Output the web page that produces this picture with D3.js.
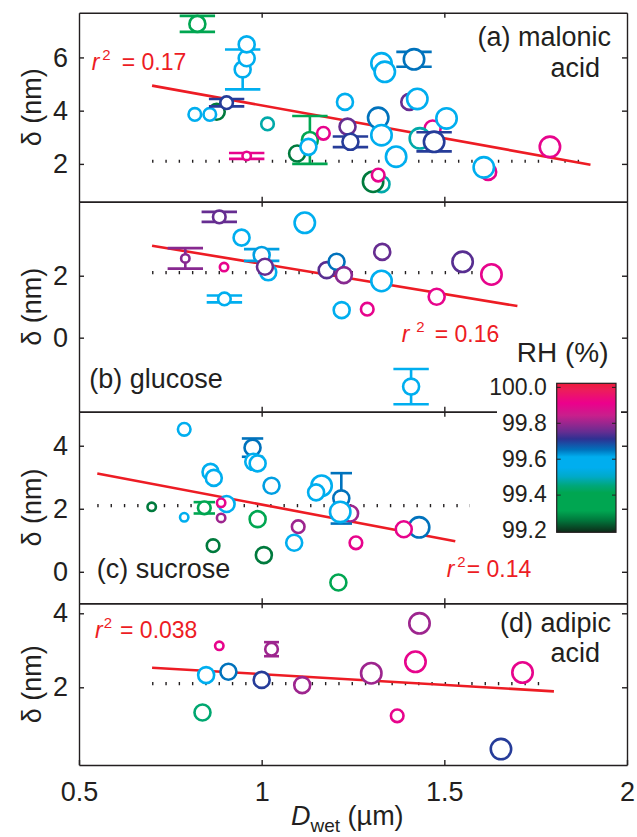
<!DOCTYPE html>
<html>
<head>
<meta charset="utf-8">
<script src="https://cdn.jsdelivr.net/npm/d3@7"></script>
<style>
body { margin: 0; background: #fff; }
text { font-family: "Liberation Sans", Arial, sans-serif; fill: #231f20; }
</style>
</head>
<body>
<svg id="chart" width="637" height="837"></svg>
<script>
// x axis (D_wet, um)
var xTicks = [0.5, 1, 1.5, 2];
var refDelta = 2.1;   // dotted reference line

// (a) malonic acid
var aD   = [0.877, 0.817, 0.858, 0.824, 0.948, 0.959, 0.959, 0.904, 1.016, 0.959, 1.097, 1.132, 1.128, 1.169, 1.228, 1.235, 1.243, 1.328, 1.337, 1.417, 1.404, 1.426, 1.319, 1.328, 1.368, 1.468, 1.433, 1.472, 1.506, 1.62, 1.608, 1.789, 1.328, 1.305, 1.319];
var aDel = [3.96, 3.86, 3.86, 7.26, 5.55, 5.97, 6.49, 4.30, 3.50, 2.30, 2.39, 2.90, 2.64, 3.15, 4.33, 3.40, 2.83, 5.78, 5.46, 5.93, 4.33, 4.44, 3.73, 3.08, 2.27, 3.33, 2.96, 2.83, 3.71, 1.70, 1.87, 2.64, 1.24, 1.33, 1.58];
var aRH  = [99.26, 99.57, 99.57, 99.37, 99.57, 99.57, 99.57, 99.70, 99.48, 99.90, 99.26, 99.37, 99.57, 99.90, 99.57, 99.75, 99.70, 99.57, 99.57, 99.65, 99.75, 99.57, 99.65, 99.57, 99.57, 99.90, 99.48, 99.70, 99.57, 99.90, 99.57, 99.90, 99.48, 99.26, 99.90];
var aSz  = [3, 2, 2, 3, 3, 3, 3, 2, 2, 1, 3, 3, 3, 2, 3, 3, 3, 4, 4, 4, 3, 4, 4, 4, 4, 3, 4, 4, 4, 3, 4, 4, 3, 4, 2];
var aErr = [0, 0, 0, 0.3, 0.75, 0, 0, 0.14, 0, 0.11, 0, 0.9, 0, 0, 0, 0, 0.2, 0, 0, 0.28, 0, 0, 0, 0, 0, 0, 0, 0.36, 0, 0, 0, 0, 0, 0, 0];
var aFitD = [0.7, 1.9], aFitDel = [4.94, 1.97], aRefD = [0.7, 1.9];

// (b) glucose
var bD   = [1.0, 1.018, 1.009, 0.884, 0.945, 1.118, 0.791, 0.897, 0.898, 1.178, 1.205, 1.225, 1.219, 1.330, 1.328, 1.289, 1.479, 1.550, 1.629, 1.409];
var bDel = [2.67, 2.11, 2.29, 3.90, 3.23, 3.71, 2.56, 2.28, 1.25, 2.18, 2.45, 2.02, 0.89, 2.77, 1.83, 0.92, 1.32, 2.45, 2.04, -1.58];
var bRH  = [99.62, 99.57, 99.75, 99.75, 99.57, 99.57, 99.78, 99.90, 99.57, 99.74, 99.65, 99.78, 99.57, 99.75, 99.57, 99.90, 99.90, 99.74, 99.90, 99.57];
var bSz  = [3, 3, 3, 2, 3, 4, 1, 1, 2, 3, 3, 3, 3, 3, 4, 2, 3, 4, 4, 3];
var bErr = [0.19, 0, 0, 0.16, 0, 0, 0.33, 0, 0.11, 0, 0, 0, 0, 0, 0, 0, 0, 0, 0, 0.57];
var bFitD = [0.7, 1.7], bFitDel = [2.97, 1.02], bRefD = [0.7, 1.68];

// (c) sucrose
var cD   = [0.788, 0.975, 0.977, 0.989, 0.860, 0.869, 1.027, 1.164, 1.149, 1.242, 1.218, 1.215, 0.699, 0.843, 0.788, 0.904, 0.889, 0.889, 0.989, 0.867, 1.006, 1.100, 1.089, 1.21, 1.258, 1.431, 1.389];
var cDel = [4.52, 3.94, 3.49, 3.44, 3.17, 2.98, 2.73, 2.73, 2.52, 1.85, 2.33, 1.90, 2.06, 2.03, 1.73, 2.15, 2.19, 1.71, 1.67, 0.83, 0.53, 1.43, 0.92, -0.34, 0.92, 1.41, 1.35];
var cRH  = [99.57, 99.65, 99.57, 99.57, 99.57, 99.57, 99.62, 99.57, 99.57, 99.80, 99.65, 99.57, 99.26, 99.37, 99.57, 99.57, 99.90, 99.80, 99.37, 99.26, 99.26, 99.80, 99.57, 99.37, 99.90, 99.65, 99.90];
var cSz  = [2, 3, 3, 3, 3, 3, 3, 4, 3, 3, 3, 4, 1, 2, 1, 3, 1, 1, 3, 2, 3, 2, 3, 3, 2, 4, 3];
var cErr = [0, 0.29, 0, 0, 0, 0, 0, 0, 0, 0, 0.8, 0, 0, 0.18, 0, 0, 0, 0, 0, 0, 0, 0, 0, 0, 0, 0, 0];
var cFitD = [0.55, 1.53], cFitDel = [3.12, 0.97], cRefD = [0.55, 1.57];

// (d) adipic acid
var dD   = [0.884, 1.027, 0.848, 0.909, 1.0, 0.838, 1.111, 1.300, 1.432, 1.421, 1.371, 1.655, 1.714];
var dDel = [3.12, 3.03, 2.33, 2.42, 2.20, 1.32, 2.06, 2.38, 3.73, 2.69, 1.23, 0.33, 2.40];
var dRH  = [99.90, 99.80, 99.57, 99.65, 99.70, 99.44, 99.80, 99.80, 99.80, 99.90, 99.90, 99.70, 99.90];
var dSz  = [1, 2, 3, 3, 3, 3, 3, 4, 4, 4, 2, 4, 4];
var dErr = [0, 0.19, 0, 0, 0, 0, 0, 0, 0, 0, 0, 0, 0];
var dFitD = [0.7, 1.8], dFitDel = [2.53, 1.89], dRefD = [0.7, 1.79];

// colour bar
var rhTicks = [99.2, 99.4, 99.6, 99.8, 100.0];
var rhStops = [99.19, 99.26, 99.31, 99.41, 99.45, 99.5, 99.55, 99.61, 99.65, 99.71, 99.75, 99.79, 99.84, 99.91, 99.98, 100.02];
var rhCols  = ["#0d2a18", "#007a3d", "#00a651", "#00a651", "#00a77a", "#00aac8", "#00aeef", "#00aeef", "#0072bc", "#2e3192", "#662d91", "#92278f", "#c81f8c", "#ec008c", "#ec1c5c", "#ed1c3a"];

var ink = "#231f20", red = "#ed1c24";
var svg = d3.select("#chart");
var x = d3.scaleLinear().domain([0.5, 2]).range([79, 627]);
var rhColor = d3.scaleLinear().domain(rhStops).range(rhCols).clamp(true);
var rScale = d3.scaleOrdinal().domain([1, 2, 3, 4]).range([4.2, 6.3, 8, 10.2]);

function rows(D, Del, RH, Sz, Err) {
    return D.map((d, i) => ({d: d, del: Del[i], rh: RH[i], sz: Sz[i], err: Err[i]}));
}

var panels = [
    {pts: rows(aD, aDel, aRH, aSz, aErr), fitD: aFitD, fitDel: aFitDel, refD: aRefD,
     top: 12.7, bot: 201.7, dom: [0.58, 7.68], ticks: [2, 4, 6], cap: 17.7},
    {pts: rows(bD, bDel, bRH, bSz, bErr), fitD: bFitD, fitDel: bFitDel, refD: bRefD,
     top: 201.7, bot: 411.7, dom: [-2.39, 4.39], ticks: [0, 2], cap: 17.7},
    {pts: rows(cD, cDel, cRH, cSz, cErr), fitD: cFitD, fitDel: cFitDel, refD: cRefD,
     top: 411.7, bot: 603.3, dom: [-1.0, 5.08], ticks: [0, 2, 4], cap: 10.7},
    {pts: rows(dD, dDel, dRH, dSz, dErr), fitD: dFitD, fitDel: dFitDel, refD: dRefD,
     top: 603.3, bot: 765, dom: [-0.1, 4.27], ticks: [2, 4], cap: 7.5}
];

function styleAxis(g, size) {
    g.attr("font-family", null).attr("font-size", null);
    g.selectAll("path, line").attr("stroke", ink).attr("stroke-width", 1.4);
    g.selectAll("text").attr("fill", ink).style("font-size", size + "px");
}

panels.forEach((p, k) => {
    var y = d3.scaleLinear().domain(p.dom).range([p.bot, p.top]);
    var g = svg.append("g");

    // frame with inward ticks
    g.append("g").attr("transform", "translate(79,0)")
        .call(d3.axisLeft(y).tickValues(p.ticks).tickFormat(d3.format("d")).tickSize(-5).tickSizeOuter(0).tickPadding(11))
        .call(a => styleAxis(a, 27));
    g.append("g").attr("transform", "translate(627,0)")
        .call(d3.axisRight(y).tickValues(p.ticks).tickFormat("").tickSize(-5).tickSizeOuter(0))
        .call(a => styleAxis(a, 27));
    g.append("g").attr("transform", "translate(0," + p.top + ")")
        .call(d3.axisTop(x).tickValues([1, 1.5]).tickFormat("").tickSize(-5).tickSizeOuter(0))
        .call(a => styleAxis(a, 27));
    var bottom = d3.axisBottom(x).tickSize(-5).tickSizeOuter(0);
    if (k == 3) bottom.tickValues(xTicks).tickFormat(d => d).tickPadding(17);
    else bottom.tickValues([1, 1.5]).tickFormat("");
    g.append("g").attr("transform", "translate(0," + p.bot + ")")
        .call(bottom)
        .call(a => styleAxis(a, 27));

    // reference and fit lines
    g.append("line")
        .attr("x1", x(p.refD[0])).attr("x2", x(p.refD[1]))
        .attr("y1", y(refDelta)).attr("y2", y(refDelta))
        .attr("stroke", ink).attr("stroke-width", 3.2).attr("stroke-dasharray", "1.4 11.9");
    g.append("line")
        .attr("x1", x(p.fitD[0])).attr("x2", x(p.fitD[1]))
        .attr("y1", y(p.fitDel[0])).attr("y2", y(p.fitDel[1]))
        .attr("stroke", red).attr("stroke-width", 2.6);

    // points with error bars
    var pt = g.selectAll("g.pt").data(p.pts).enter().append("g").attr("class", "pt");
    var withErr = pt.filter(d => d.err > 0);
    withErr.append("line")
        .attr("x1", d => x(d.d)).attr("x2", d => x(d.d))
        .attr("y1", d => y(d.del - d.err)).attr("y2", d => y(d.del + d.err))
        .attr("stroke", d => rhColor(d.rh)).attr("stroke-width", 2.6);
    [-1, 1].forEach(s => {
        withErr.append("line")
            .attr("x1", d => x(d.d) - p.cap).attr("x2", d => x(d.d) + p.cap)
            .attr("y1", d => y(d.del + s * d.err)).attr("y2", d => y(d.del + s * d.err))
            .attr("stroke", d => rhColor(d.rh)).attr("stroke-width", 2.6);
    });
    pt.append("circle")
        .attr("cx", d => x(d.d)).attr("cy", d => y(d.del))
        .attr("r", d => rScale(d.sz))
        .attr("fill", "#fff")
        .attr("stroke", d => rhColor(d.rh)).attr("stroke-width", 2.6);

    // y label
    svg.append("text")
        .attr("transform", "translate(41," + ((p.top + p.bot) / 2) + ") rotate(-90)")
        .attr("text-anchor", "middle").style("font-size", "27px")
        .text("\u03b4 (nm)");
});

// panel names (one text element each, lines as tspans)
function label(lines, xs, y0, gap, anchor) {
    var t = svg.append("text").attr("y", y0).attr("text-anchor", anchor).style("font-size", "27px");
    lines.forEach((s, i) => {
        t.append("tspan").attr("x", xs[i]).attr("dy", i ? gap : 0).text(s);
    });
}
label(["(a) malonic", "acid"], [611, 600], 46, 30.5, "end");
label(["(b) glucose"], [89.3], 388.3, 0, "start");
label(["(c) sucrose"], [96.7], 577.7, 0, "start");
label(["(d) adipic", "acid"], [611, 600], 631.5, 30.5, "end");

// r^2 labels
function rsq(xp, yp, gap, val) {
    var t = svg.append("text").attr("x", xp).attr("y", yp).style("font-size", "23px");
    t.append("tspan").style("font-style", "italic").style("fill", red).text("r");
    t.append("tspan").attr("dx", gap[0]).attr("dy", -10).style("font-size", "15px").style("fill", red).text("2");
    t.append("tspan").attr("dx", gap[1]).attr("dy", 10).style("fill", red).text("= " + val);
}
rsq(91.7, 70, [3, 11], "0.17");
rsq(401.7, 341.7, [7, 10], "0.16");
rsq(446.7, 576.7, [3, 1], "0.14");
rsq(95, 638.3, [1, 8], "0.038");

// x title
var xt = svg.append("text").attr("x", 291).attr("y", 825).style("font-size", "27px");
xt.append("tspan").style("font-style", "italic").text("D");
xt.append("tspan").attr("dy", 7).style("font-size", "19px").text("wet");
xt.append("tspan").attr("dy", -7).text(" (\u00b5m)");

// colour bar on white patch
svg.append("rect").attr("x", 497).attr("y", 338).attr("width", 124).attr("height", 200).attr("fill", "#fff");
var cb = d3.scaleLinear().domain([99.19, 100.02]).range([532.3, 383.3]);
var grad = svg.append("defs").append("linearGradient").attr("id", "rhgrad")
    .attr("x1", 0).attr("y1", 1).attr("x2", 0).attr("y2", 0);
rhStops.forEach((v, i) => {
    grad.append("stop").attr("offset", (v - 99.19) / 0.83).attr("stop-color", rhCols[i]);
});
svg.append("rect").attr("x", 556.7).attr("y", 383.3).attr("width", 59.3).attr("height", 149)
    .attr("fill", "url(#rhgrad)").attr("stroke", ink).attr("stroke-width", 1.2);
svg.append("g").attr("transform", "translate(556.7,0)")
    .call(d3.axisLeft(cb).tickValues(rhTicks).tickFormat(d3.format(".1f")).tickSize(-4).tickSizeOuter(0).tickPadding(10))
    .call(a => { styleAxis(a, 23); a.select(".domain").remove(); a.selectAll("line").attr("stroke-width", 1); });
svg.append("g").attr("transform", "translate(616,0)")
    .call(d3.axisRight(cb).tickValues(rhTicks).tickFormat("").tickSize(-4).tickSizeOuter(0))
    .call(a => { styleAxis(a, 23); a.select(".domain").remove(); a.selectAll("line").attr("stroke-width", 1); });
svg.append("text").attr("x", 516.7).attr("y", 361.7).style("font-size", "28px").text("RH (%)");
</script>
</body>
</html>
